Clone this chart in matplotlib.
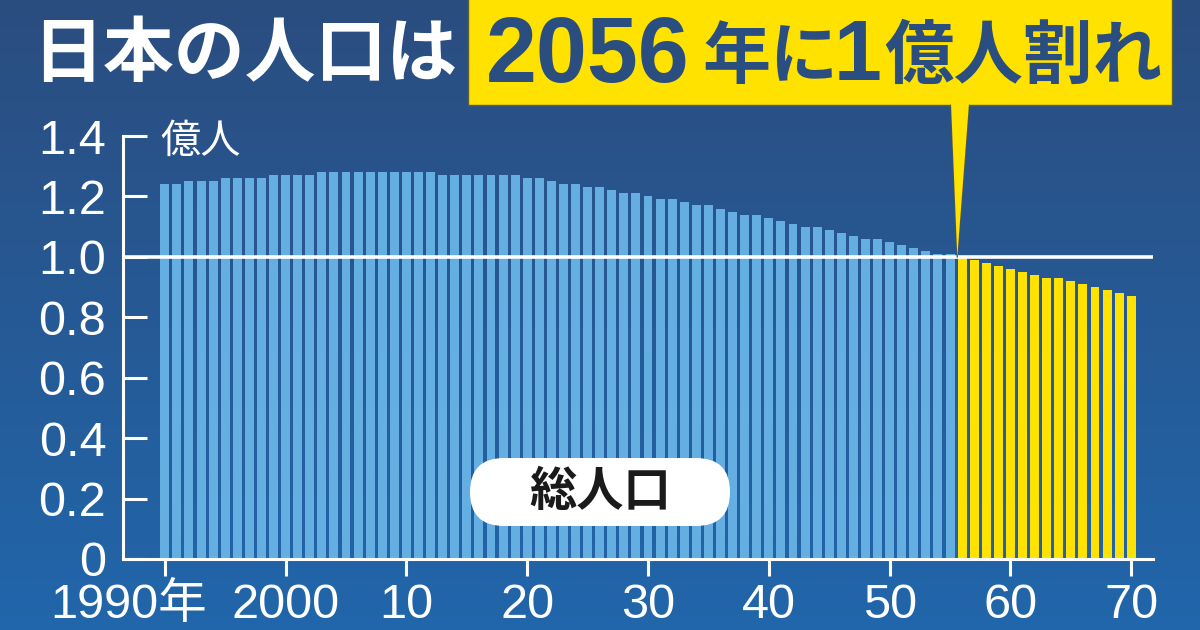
import numpy as np
import matplotlib
matplotlib.use("Agg")
import matplotlib.pyplot as plt
from matplotlib.patches import FancyBboxPatch, Polygon, Rectangle
from matplotlib.lines import Line2D
from matplotlib.colors import LinearSegmentedColormap
import matplotlib.transforms as mtransforms

plt.rcParams['font.family'] = ['Liberation Sans', 'Noto Sans CJK JP']

# ---- data (億人) ----
years = list(range(1990, 2071))
population = [
    1.24, 1.24, 1.25, 1.25, 1.25, 1.26, 1.26, 1.26, 1.26, 1.27,   # 1990-1999
    1.27, 1.27, 1.27, 1.28, 1.28, 1.28, 1.28, 1.28, 1.28, 1.28,   # 2000-2009
    1.28, 1.28, 1.28, 1.27, 1.27, 1.27, 1.27, 1.27, 1.27, 1.27,   # 2010-2019
    1.26, 1.26, 1.25, 1.24, 1.24, 1.23, 1.23, 1.22, 1.21, 1.21,   # 2020-2029
    1.20, 1.19, 1.19, 1.18, 1.17, 1.17, 1.16, 1.15, 1.14, 1.14,   # 2030-2039
    1.13, 1.12, 1.11, 1.10, 1.10, 1.09, 1.08, 1.07, 1.06, 1.06,   # 2040-2049
    1.05, 1.04, 1.03, 1.02, 1.01, 1.01, 0.997, 0.99, 0.98, 0.97,  # 2050-2059
    0.96, 0.95, 0.94, 0.93, 0.93, 0.92, 0.91, 0.90, 0.89, 0.88,   # 2060-2069
    0.87,                                                         # 2070
]
highlight_from = 2056
xtick_years = [1990, 2000, 2010, 2020, 2030, 2040, 2050, 2060, 2070]
xtick_labels = ['1990年', '2000', '10', '20', '30', '40', '50', '60', '70']
ytick_values = [0, 0.2, 0.4, 0.6, 0.8, 1.0, 1.2, 1.4]
ytick_labels = ['0', '0.2', '0.4', '0.6', '0.8', '1.0', '1.2', '1.4']

# ---- colours ----
BG_TOP = '#2B4D7F'
BG_BOTTOM = '#2166AB'
BAR_BLUE = '#64AEE1'
YELLOW = '#FFE200'
NAVY_TEXT = '#2A4E80'
EDGE_DARK = '#5E5C3A'

fig = plt.figure(figsize=(12, 6.3), dpi=100)

# background gradient
bg = fig.add_axes([0, 0, 1, 1], zorder=-10)
cmap = LinearSegmentedColormap.from_list('bg', [BG_BOTTOM, BG_TOP])
grad = np.linspace(0, 1, 256).reshape(-1, 1)
bg.imshow(grad, aspect='auto', cmap=cmap, origin='lower', extent=[0, 1, 0, 1])
bg.set_axis_off()

# main axes
ax = fig.add_axes([123 / 1200, 71 / 630, 1030 / 1200, 423 / 630])
ax.patch.set_alpha(0)
colors = [YELLOW if y >= highlight_from else BAR_BLUE for y in years]
ax.bar(years, population, width=0.74, color=colors, linewidth=0, zorder=2)
ax.axhline(1.0, color='white', lw=2.6, zorder=3)

ax.set_xlim(1986.54, 2071.8)
ax.set_ylim(0, 1.4)
for s in ['top', 'right']:
    ax.spines[s].set_visible(False)
for s in ['left', 'bottom']:
    ax.spines[s].set_color('white')
    ax.spines[s].set_linewidth(2.2)
    ax.spines[s].set_zorder(4)

ax.set_yticks(ytick_values)
ax.set_yticklabels(ytick_labels)
ax.tick_params(axis='y', direction='in', length=17, width=2.2, color='white',
               labelcolor='white', labelsize=35, pad=12)
ax.set_xticks(xtick_years)
ax.set_xticklabels(xtick_labels)
ax.tick_params(axis='x', direction='out', length=12, width=2.2, color='white',
               labelcolor='white', labelsize=35, pad=5)
# shift first label ("1990年") left so the digits end at the tick
first = ax.get_xticklabels()[0]
first.set_transform(first.get_transform() +
                    mtransforms.ScaledTranslation(-0.36, 0, fig.dpi_scale_trans))

# unit label
fig.text(160 / 100, (630 - 141) / 100, '億人', transform=fig.dpi_scale_trans,
         fontsize=29, color='white', ha='left', va='center',
         family=['Noto Sans CJK JP'])

# title (white part)
fig.text(32 / 100, (630 - 55) / 100, '日本の人口は', transform=fig.dpi_scale_trans,
         fontsize=51, color='white', fontweight='bold', ha='left', va='center',
         family=['Noto Sans CJK JP'])

# yellow callout box
box = Rectangle((468 / 100, (630 - 105) / 100), 704 / 100, 1.2,
                transform=fig.dpi_scale_trans, facecolor=YELLOW,
                edgecolor=EDGE_DARK, lw=1.0, zorder=5)
fig.patches.append(box)

# pointer triangle to the 2056 / 1.0 point
fig.canvas.draw()
tip_disp = ax.transData.transform((2055.6, 1.0))
tip_in = tip_disp / fig.dpi
b1 = (951 / 100, (630 - 103) / 100)
b2 = (969 / 100, (630 - 103) / 100)
tri = Polygon([b1, b2, tuple(tip_in)], closed=True, transform=fig.dpi_scale_trans,
              facecolor=YELLOW, edgecolor='none', zorder=6)
fig.patches.append(tri)
for b in (b1, b2):
    fig.lines.append(Line2D([b[0], tip_in[0]], [b[1] - 0.02, tip_in[1]],
                            transform=fig.dpi_scale_trans, color=EDGE_DARK,
                            lw=0.8, zorder=6))

ty = (630 - 58) / 100
fig.text(486 / 100, ty, '2056', transform=fig.dpi_scale_trans, fontsize=66,
         color=NAVY_TEXT, fontweight='bold', ha='left', va='center',
         family=['Liberation Sans'], zorder=7)
fig.text(702 / 100, ty, '年に', transform=fig.dpi_scale_trans, fontsize=49,
         color=NAVY_TEXT, fontweight='bold', ha='left', va='center',
         family=['Noto Sans CJK JP'], zorder=7)
fig.text(834 / 100, ty, '1', transform=fig.dpi_scale_trans, fontsize=62,
         color=NAVY_TEXT, fontweight='bold', ha='left', va='center',
         family=['Liberation Sans'], zorder=7)
fig.text(884 / 100, ty, '億人割れ', transform=fig.dpi_scale_trans, fontsize=50,
         color=NAVY_TEXT, fontweight='bold', ha='left', va='center',
         family=['Noto Sans CJK JP'], zorder=7)

# "総人口" pill label
pill = FancyBboxPatch((470 / 100, (630 - 526) / 100), 260 / 100, 68 / 100,
                      boxstyle='round,pad=0,rounding_size=0.34',
                      transform=fig.dpi_scale_trans, facecolor='white',
                      edgecolor='none', zorder=8)
fig.patches.append(pill)
fig.text(600 / 100, (630 - 492) / 100, '総人口', transform=fig.dpi_scale_trans,
         fontsize=34, color='#1a1a1a', fontweight='bold', ha='center', va='center',
         family=['Noto Sans CJK JP'], zorder=9)

fig.savefig('out.png', dpi=100)
